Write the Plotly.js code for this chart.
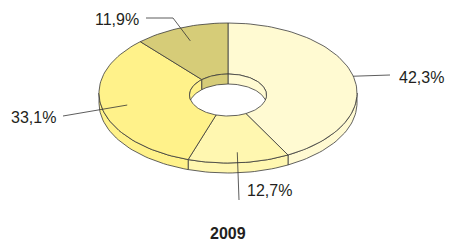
<!DOCTYPE html>
<html>
<head>
<meta charset="utf-8">
<script src="https://cdn.plot.ly/plotly-3.0.1.min.js"></script>
<style>html,body{margin:0;padding:0;background:#fff;}#chart{width:449px;height:242px;}</style>
</head>
<body>
<div id="chart"></div>
<script>
// ---- data ----
const sliceLabels = ['42,3%', '12,7%', '33,1%', '11,9%'];
const sliceValues = [42.3, 12.7, 33.1, 11.9];
const sliceColors = ['#FFFAD2', '#FFF7B0', '#FFF28A', '#D6CC78'];
const chartTitle = '2009';

// ---- geometry (layout only) ----
const W = 449, H = 242;
const cx = 228, cy = 93, rx = 129, ry = 70;
const hcx = 228, hcy = 95, hrx = 38.5, hry = 21;
const depth = 10;
const edge = {color: '#3a3a3a', width: 0.8};

const total = sliceValues.reduce((a, b) => a + b, 0);
const bounds = [];
let acc = 0;
sliceValues.forEach(v => { bounds.push([acc / total * 360, (acc + v) / total * 360]); acc += v; });

const rad = d => d * Math.PI / 180;
function ptO(t, dy = 0, s = 1) { return [cx + s * rx * Math.sin(rad(t)), cy - s * ry * Math.cos(rad(t)) + dy]; }
function ptH(t) { return [hcx + hrx * Math.sin(rad(t)), hcy - hry * Math.cos(rad(t))]; }
function range(a, b) { const n = Math.max(2, Math.ceil(Math.abs(b - a) / 2)); const r = []; for (let i = 0; i <= n; i++) r.push(a + (b - a) * i / n); return r; }

const traces = [];
function poly(pts, color) {
  traces.push({type: 'scatter', mode: 'lines', x: pts.map(p => p[0]), y: pts.map(p => p[1]),
    fill: 'toself', fillcolor: color, line: edge, hoverinfo: 'skip', showlegend: false});
}

// outer side walls (front half 90..270)
bounds.forEach((b, i) => {
  const a = Math.max(b[0], 90), e = Math.min(b[1], 270);
  if (e <= a) return;
  const pts = [];
  range(a, e).forEach(t => pts.push(ptO(t)));
  range(e, a).forEach(t => pts.push(ptO(t, depth)));
  pts.push(pts[0]);
  poly(pts, sliceColors[i]);
});

// top faces
bounds.forEach((b, i) => {
  const pts = [];
  range(b[0], b[1]).forEach(t => pts.push(ptO(t)));
  range(b[1], b[0]).forEach(t => pts.push(ptH(t)));
  pts.push(pts[0]);
  poly(pts, sliceColors[i]);
});

// inner hole wall (far half 270..450)
bounds.forEach((b, i) => {
  [[b[0], b[1]], [b[0] + 360, b[1] + 360]].forEach(bb => {
    const a = Math.max(bb[0], 270), e = Math.min(bb[1], 450);
    if (e <= a) return;
    const pts = [];
    range(a, e).forEach(t => pts.push(ptH(t)));
    range(e, a).forEach(t => {
      const c = Math.cos(rad(t));
      const yTop = hcy - hry * c + depth, yBot = hcy + hry * c;
      pts.push([hcx + hrx * Math.sin(rad(t)), Math.min(yTop, yBot)]);
    });
    pts.push(pts[0]);
    poly(pts, sliceColors[i]);
  });
});

// leader lines + labels
const mids = bounds.map(b => (b[0] + b[1]) / 2);
const leaderR = [1.0, 0.85, 0.8, 0.8];
const leaderPath = [
  [[390, 75]],
  [[239, 200]],
  [[63, 116]],
  [[173, 18], [146, 18]]
];
const labelPos = [[397, 77, 'left'], [245, 190, 'left'], [58, 117, 'right'], [141, 19, 'right']];
const annotations = [];
sliceLabels.forEach((lab, i) => {
  const s = ptO(mids[i], 0, leaderR[i]);
  const pts = [s].concat(leaderPath[i]);
  traces.push({type: 'scatter', mode: 'lines', x: pts.map(p => p[0]), y: pts.map(p => p[1]),
    line: {color: '#333', width: 0.8}, hoverinfo: 'skip', showlegend: false});
  annotations.push({x: labelPos[i][0], y: labelPos[i][1], xref: 'x', yref: 'y', text: lab,
    showarrow: false, xanchor: labelPos[i][2], yanchor: 'middle',
    font: {family: 'Liberation Sans, Arial, sans-serif', size: 16, color: '#231F20'}});
});
annotations.push({x: 228, y: 233, xref: 'x', yref: 'y', text: '<b>' + chartTitle + '</b>', showarrow: false,
  xanchor: 'center', yanchor: 'middle', font: {family: 'Liberation Sans, Arial, sans-serif', size: 16, color: '#231F20'}});

const layout = {
  width: W, height: H, margin: {l: 0, r: 0, t: 0, b: 0},
  paper_bgcolor: '#fff', plot_bgcolor: '#fff', showlegend: false,
  xaxis: {range: [0, W], visible: false, fixedrange: true},
  yaxis: {range: [H, 0], visible: false, fixedrange: true},
  annotations: annotations
};
Plotly.newPlot('chart', traces, layout, {displayModeBar: false, staticPlot: true});
</script>
</body>
</html>
